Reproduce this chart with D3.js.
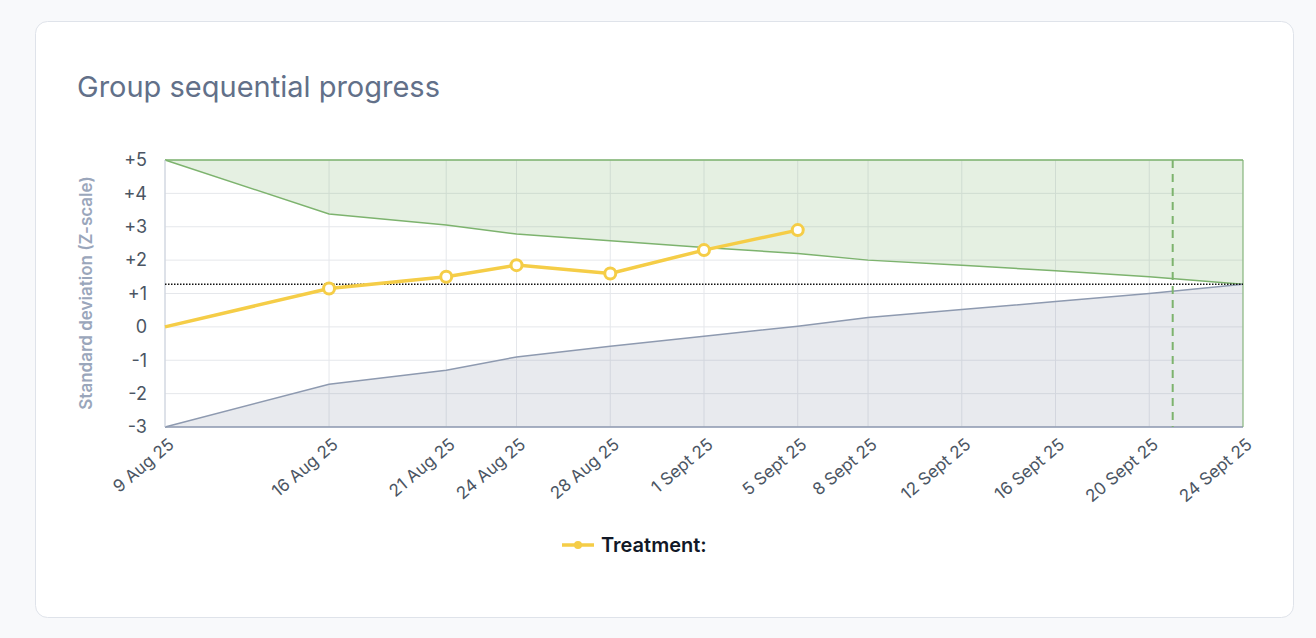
<!DOCTYPE html><html><head><meta charset="utf-8">
<script src="https://cdn.jsdelivr.net/npm/d3@7"></script>
<style>body{margin:0;background:#f8f9fb;font-family:Inter,sans-serif}</style></head><body>
<svg id="c" width="1316" height="638"></svg>
<script>
const dates=["2025-08-09","2025-08-16","2025-08-21","2025-08-24","2025-08-28","2025-09-01","2025-09-05","2025-09-08","2025-09-12","2025-09-16","2025-09-20","2025-09-24"];
const tickLabels=["9 Aug 25","16 Aug 25","21 Aug 25","24 Aug 25","28 Aug 25","1 Sept 25","5 Sept 25","8 Sept 25","12 Sept 25","16 Sept 25","20 Sept 25","24 Sept 25"];
const upper=[5,3.38,3.05,2.78,2.58,2.38,2.2,2.0,1.85,1.68,1.5,1.28];
const lower=[-3,-1.72,-1.3,-0.9,-0.58,-0.28,0.02,0.28,0.52,0.76,1.0,1.28];
const treatment=[0,1.15,1.5,1.85,1.6,2.3,2.9];
const threshold=1.28;
const plannedEnd="2025-09-21";
const yTicks=[-3,-2,-1,0,1,2,3,4,5];
const P=d3.timeParse("%Y-%m-%d");
const svg=d3.select("#c");
svg.append("rect").attr("x",35.5).attr("y",21.5).attr("width",1258).attr("height",596).attr("rx",12).attr("fill","#fff").attr("stroke","#dfe3ea");
svg.append("text").attr("x",77).attr("y",97).attr("font-size",29).attr("fill","#627089").text("Group sequential progress");
const x=d3.scaleTime().domain([P(dates[0]),P(dates[11])]).range([165,1243]);
const y=d3.scaleLinear().domain([-3,5]).range([427,160]);
const g=svg.append("g");
g.selectAll(".gy").data(yTicks).join("line").attr("x1",165).attr("x2",1243).attr("y1",d=>y(d)).attr("y2",d=>y(d)).attr("stroke","#e5e7eb");
g.selectAll(".gx").data(dates).join("line").attr("x1",d=>x(P(d))).attr("x2",d=>x(P(d))).attr("y1",160).attr("y2",427).attr("stroke","#e5e7eb");
const pts=dates.map((d,i)=>({d:P(d),u:upper[i],l:lower[i]}));
g.append("path").datum(pts).attr("fill","rgba(124,179,110,0.2)").attr("d",d3.area().x(p=>x(p.d)).y0(y(5)).y1(p=>y(p.u)));
g.append("path").datum(pts).attr("fill","rgba(140,152,172,0.2)").attr("d",d3.area().x(p=>x(p.d)).y0(y(-3)).y1(p=>y(p.l)));
g.append("path").datum(pts).attr("fill","none").attr("stroke","#7db36e").attr("stroke-width",1.5).attr("d",d3.line().x(p=>x(p.d)).y(p=>y(p.u)));
g.append("path").datum(pts).attr("fill","none").attr("stroke","#8e9ab0").attr("stroke-width",1.5).attr("d",d3.line().x(p=>x(p.d)).y(p=>y(p.l)));
g.append("line").attr("x1",165).attr("x2",1243).attr("y1",y(5)).attr("y2",y(5)).attr("stroke","#7db36e").attr("stroke-width",1.5);
g.append("line").attr("x1",165).attr("x2",1243).attr("y1",y(-3)).attr("y2",y(-3)).attr("stroke","#8e9ab0").attr("stroke-width",1.5);
g.append("line").attr("x1",165).attr("x2",165).attr("y1",160).attr("y2",427).attr("stroke","#c9d0dc");
g.append("line").attr("x1",1243).attr("x2",1243).attr("y1",160).attr("y2",427).attr("stroke","#7db36e");
g.append("line").attr("x1",165).attr("x2",1243).attr("y1",y(threshold)).attr("y2",y(threshold)).attr("stroke","#111").attr("stroke-width",1.5).attr("stroke-dasharray","1.5,1.5");
g.append("line").attr("x1",x(P(plannedEnd))).attr("x2",x(P(plannedEnd))).attr("y1",160).attr("y2",427).attr("stroke","#7db36e").attr("stroke-width",2).attr("stroke-dasharray","8,6");
const tp=treatment.map((v,i)=>({d:P(dates[i]),v}));
g.append("path").datum(tp).attr("fill","none").attr("stroke","#f5cd47").attr("stroke-width",3.5).attr("d",d3.line().x(p=>x(p.d)).y(p=>y(p.v)));
g.selectAll(".m").data(tp.slice(1)).join("circle").attr("cx",p=>x(p.d)).attr("cy",p=>y(p.v)).attr("r",5.5).attr("fill","#fff").attr("stroke","#f5cd47").attr("stroke-width",3);
const ya=svg.append("g").attr("transform","translate(165,0)").call(d3.axisLeft(y).tickValues(yTicks).tickSize(0).tickPadding(18).tickFormat(d=>d>0?"+"+d:d));
ya.select(".domain").remove();ya.selectAll("text").attr("font-size",18).attr("fill","#4b5563").attr("font-family","Inter,sans-serif");
const xa=svg.append("g").attr("transform","translate(0,427)").call(d3.axisBottom(x).tickValues(dates.map(P)).tickSize(0).tickFormat((d,i)=>tickLabels[i]));
xa.select(".domain").remove();
xa.selectAll("text").attr("font-size",17).attr("fill","#4b5563").attr("font-family","Inter,sans-serif").attr("text-anchor","end").attr("transform","translate(0,8) rotate(-40)").attr("dy","0.7em");
svg.append("text").attr("transform","translate(92,293) rotate(-90)").attr("text-anchor","middle").attr("font-size",17).attr("font-weight",600).attr("fill","#9aa6bb").text("Standard deviation (Z-scale)");
svg.append("line").attr("x1",562).attr("x2",594).attr("y1",545).attr("y2",545).attr("stroke","#f5cd47").attr("stroke-width",3.5);
svg.append("circle").attr("cx",578).attr("cy",545).attr("r",4).attr("fill","#f5cd47");
svg.append("text").attr("x",601).attr("y",552).attr("font-size",20).attr("font-weight",600).attr("fill","#111827").text("Treatment:");
</script></body></html>
